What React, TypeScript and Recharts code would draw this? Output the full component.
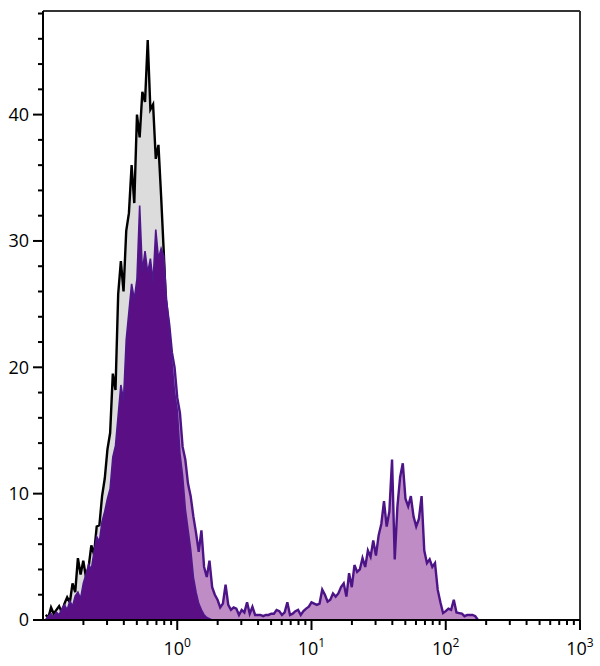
import { AreaChart, Area, XAxis, YAxis, ReferenceLine } from 'recharts'

// bin positions on the log axis (channel centres)
const LOG_START = -0.98
const LOG_STEP = 0.02

// isotype control (grey fill, black outline)
const isotype = [
  0.4, 0.2, 1.0, 0.5, 0.8, 1.1, 0.6, 1.3, 1.8, 1.4,
  2.9, 2.2, 4.9, 3.6, 4.7, 3.4, 4.2, 5.9, 5.2, 7.4,
  7.5, 9.8, 11.2, 13.5, 14.8, 19.5, 18.2, 25.8, 28.4, 26.0,
  30.8, 32.2, 36.0, 33.0, 40.0, 38.2, 41.8, 41.0, 45.9, 40.4,
  40.8, 36.5, 37.6, 33.5, 29.0, 24.0, 21.5, 18.8, 16.2, 14.6,
  11.6, 9.8, 7.4, 5.8, 4.4, 2.4, 1.6, 0.9, 0.5, 0.2,
  0.1, 0,
]

// unstained (dark purple fill)
const unstained = [
  0, 0.3, 0.5, 0.2, 0.6, 0.4, 0.9, 1.2, 0.8, 1.5,
  1.1, 1.9, 2.2, 1.7, 2.9, 3.6, 4.4, 4.0, 5.4, 6.6,
  6.2, 7.8, 8.6, 9.6, 10.4, 12.9, 13.8, 16.2, 18.6, 17.4,
  22.2, 24.4, 26.6, 25.4, 27.0, 32.8, 27.6, 29.2, 27.5, 28.6,
  26.8, 30.9, 28.6, 29.4, 28.8, 25.4, 23.2, 20.4, 18.0, 16.6,
  13.2, 11.4, 8.8, 7.2, 5.6, 3.4, 2.2, 1.3, 0.8, 0.4,
  0.2, 0.1, 0,
]

// stained sample (light purple fill, purple outline)
const stained = [
  0, 0.2, 0.3, 0.1, 0.4, 0.3, 0.6, 0.8, 0.6, 1.1,
  0.9, 1.5, 1.6, 1.4, 2.3, 2.8, 3.6, 3.4, 4.5, 5.5,
  5.4, 6.6, 7.6, 8.4, 9.2, 11.2, 12.4, 14.6, 16.4, 16.2,
  20.2, 22.0, 24.4, 23.8, 25.0, 27.4, 26.0, 27.0, 25.4, 26.6,
  25.8, 27.4, 26.2, 27.0, 26.4, 25.0, 23.4, 21.2, 20.0, 17.6,
  16.4, 13.7, 12.7, 10.8, 9.8, 8.2, 6.9, 5.4, 7.1, 4.2,
  3.4, 4.7, 2.6, 2.0, 1.6, 1.0, 1.3, 2.8, 1.2, 0.8,
  1.0, 0.9, 0.4, 0.8, 0.6, 1.4, 0.5, 1.05, 0.4, 0.4,
  0.4, 0.3, 0.4, 0.4, 0.5, 0.5, 0.8, 0.7, 0.4, 0.6,
  1.4, 0.4, 0.5, 0.7, 0.8, 0.4, 0.7, 0.9, 1.05, 1.4,
  1.3, 1.2, 1.3, 2.4, 2.0, 1.45, 1.6, 2.1, 1.85, 2.1,
  2.6, 2.9, 1.85, 3.7, 2.6, 4.35, 3.8, 4.0, 4.9, 4.2,
  5.5, 5.0, 6.3, 5.1, 6.7, 7.6, 9.4, 7.4, 8.6, 12.7,
  4.8, 9.0, 11.3, 12.4, 9.6, 9.0, 9.8, 8.2, 7.4, 8.0,
  9.8, 5.5, 4.5, 4.8, 4.2, 4.5, 2.4, 1.4, 0.55, 0.7,
  0.9, 0.8, 1.6, 0.6, 0.55, 0.5, 0.3, 0.4, 0.4, 0.4,
  0.3, 0,
]

const yTicks = [0, 2, 4, 6, 8, 10, 12, 14, 16, 18, 20, 22, 24, 26, 28, 30, 32, 34, 36, 38, 40, 42, 44, 46, 48]
const xTicks = [
  0.2, 0.3, 0.4, 0.5, 0.6, 0.7, 0.8, 0.9,
  1, 2, 3, 4, 5, 6, 7, 8, 9,
  10, 20, 30, 40, 50, 60, 70, 80, 90,
  100, 200, 300, 400, 500, 600, 700, 800, 900,
  1000,
]
const decades = [1, 10, 100, 1000]

const data = stained.map((s, i) => ({
  x: Math.pow(10, LOG_START + i * LOG_STEP),
  iso: isotype[i] ?? null,
  unst: unstained[i] ?? null,
  stain: s,
}))

const FONT = '"Open Sans", "Noto Sans", sans-serif'

const YTick = ({ x, y, payload }: any) => {
  const major = payload.value % 10 === 0
  return (
    <g>
      <line x1={x - (major ? 10 : 5)} x2={x} y1={y} y2={y} stroke="#000" strokeWidth={2} />
      {major && (
        <text x={x - 14} y={y} dy="0.36em" textAnchor="end" fontSize={18} fontFamily={FONT} fill="#000">
          {payload.value}
        </text>
      )}
    </g>
  )
}

const XTick = ({ x, y, payload }: any) => {
  const major = decades.includes(payload.value)
  const exp = Math.round(Math.log10(payload.value))
  return (
    <g>
      <line x1={x} x2={x} y1={y} y2={y + (major ? 10 : 5)} stroke="#000" strokeWidth={2} />
      {major && (
        <text x={x} y={y + 35} textAnchor="middle" fontSize={18} fontFamily={FONT} fill="#000">
          <tspan>10</tspan>
          <tspan dy={-8} fontSize={12}>{exp}</tspan>
        </text>
      )}
    </g>
  )
}

export default function App() {
  return (
    <div style={{ position: 'absolute', left: 0, top: 0, width: 600, height: 666, background: '#fff' }}>
      <AreaChart width={600} height={666} data={data} margin={{ top: 11, right: 20, bottom: 0, left: 0 }}>
        <XAxis
          dataKey="x"
          type="number"
          scale="log"
          domain={[0.1, 1000]}
          allowDataOverflow
          ticks={xTicks}
          interval={0}
          tick={<XTick />}
          tickSize={0}
          tickMargin={0}
          tickLine={false}
          height={46}
          axisLine={{ stroke: '#000', strokeWidth: 2 }}
        />
        <YAxis
          type="number"
          domain={[0, 48.2]}
          allowDataOverflow
          ticks={yTicks}
          interval={0}
          tick={<YTick />}
          tickSize={0}
          tickMargin={0}
          tickLine={false}
          width={43}
          axisLine={{ stroke: '#000', strokeWidth: 2 }}
        />
        <Area
          dataKey="iso"
          type="linear"
          stroke="#000"
          strokeWidth={2.4}
          fill="#dcdcdc"
          fillOpacity={1}
          isAnimationActive={false}
          dot={false}
          activeDot={false}
        />
        <Area
          dataKey="stain"
          type="linear"
          stroke="#4c1487"
          strokeWidth={2.4}
          fill="#bf8cc5"
          fillOpacity={1}
          isAnimationActive={false}
          dot={false}
          activeDot={false}
        />
        <Area
          dataKey="unst"
          type="linear"
          stroke="#50168c"
          strokeWidth={1.6}
          fill="#5b0f84"
          fillOpacity={1}
          isAnimationActive={false}
          dot={false}
          activeDot={false}
        />
        <ReferenceLine y={48.2} stroke="#333" strokeWidth={2} />
        <ReferenceLine x={1000} stroke="#333" strokeWidth={2} />
      </AreaChart>
    </div>
  )
}
